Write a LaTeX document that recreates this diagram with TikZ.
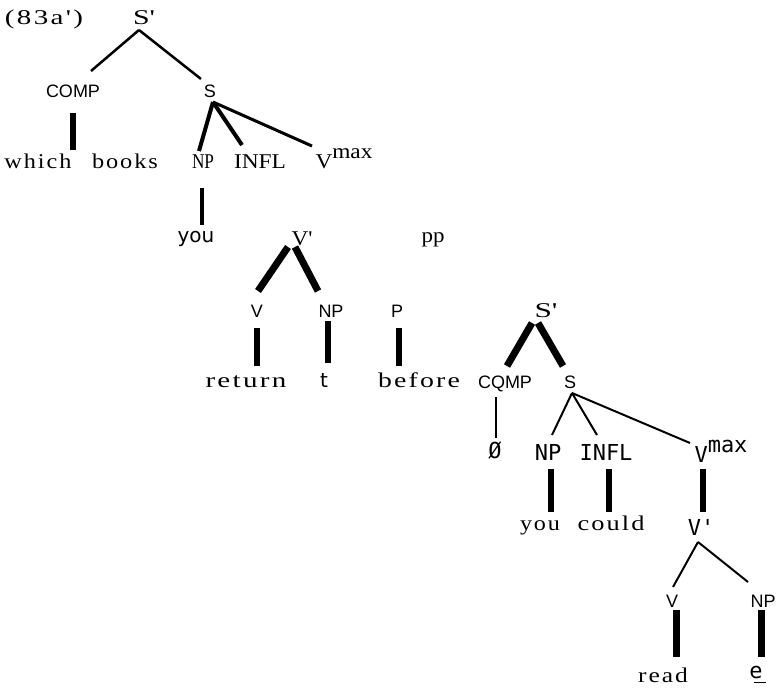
\documentclass[tikz,border=0pt]{standalone}
\usepackage{fontspec}
\usepackage{graphicx}
\setmainfont[Ligatures=TeXOff]{Liberation Serif}
\newfontfamily\spc[LetterSpace=8,Ligatures=TeXOff]{Liberation Serif}
\newfontfamily\ars{Liberation Sans}
\newfontfamily\dvs{DejaVu Sans}
\newfontfamily\mon[Ligatures=TeXOff]{DejaVu Sans Mono}
\newcommand\stw[2]{\resizebox{#1pt}{\height}{#2}}
\usetikzlibrary{calc}
\begin{document}
\begin{tikzpicture}[x=1pt,y=-1pt,
  lab/.style={anchor=base,inner sep=0pt,outer sep=0pt},
  ser/.style={lab,font=\fontsize{21}{25}\rmfamily},
  word/.style={lab,font=\fontsize{21}{25}\spc},
  sans/.style={lab,font=\fontsize{18}{22}\ars},
  dv/.style={lab,font=\fontsize{20}{24}\dvs},
  mono/.style={lab,font=\fontsize{22}{26}\mon},
  e2/.style={line width=2pt},
  e3/.style={line width=3pt},
  e4/.style={line width=4pt},
  e6/.style={line width=6pt},
  e7/.style={line width=7pt}]
\fill[white] (0,0) rectangle (777,689);
\useasboundingbox (0,0) rectangle (777,689);
% nodes
\node[word] (L) at (44,24) {\stw{78}{(83a')}};
\node[ser] (Sp1) at (144,24) {\stw{22}{S'}};
\node[sans] (COMP) at (73,97) {COMP};
\node[sans] (S1) at (210,97) {S};
\node[word] (which) at (38,168) {\stw{67}{which}};
\node[word] (books) at (125,168) {\stw{66}{books}};
\node[ser] (NP1) at (203,168) {\stw{22}{NP}};
\node[ser] (INFL1) at (260,168) {\stw{52}{INFL}};
\node[ser] (Vmax1) at (344,168) {\stw{57}{V\raisebox{10pt}{max}}};
\node[dv] (you1) at (196,242) {you};
\node[ser] (Vb1) at (302,245) {\stw{21}{V'}};
\node[ser] (PP) at (433,242) {\stw{23}{pp}};
\node[sans] (V2) at (257,317) {V};
\node[sans] (NP2) at (331,317) {NP};
\node[sans] (P) at (397,317) {P};
\node[ser] (Sp2) at (546,317) {\stw{23}{S'}};
\node[word] (return) at (246,387) {\stw{81}{return}};
\node[dv] (t) at (324,387) {t};
\node[word] (before) at (419,387) {\stw{82}{before}};
\node[sans] (CQMP) at (505,388) {CQMP};
\node[sans] (S2) at (570,388) {S};
\node[mono] (zero) at (495,458) {Ø};
\node[mono] (NP3) at (548,460) {NP};
\node[mono] (INFL2) at (606,460) {INFL};
\node[mono] (Vmax2) at (721,462) {V\raisebox{10pt}{max}};
\node[word] (you2) at (540,530) {\stw{40}{you}};
\node[word] (could) at (611,530) {\stw{67}{could}};
\node[mono] (Vb3) at (701,535) {V'};
\node[sans] (V3) at (672,607) {V};
\node[sans] (NP4) at (763,607) {NP};
\node[word] (read) at (663,682) {\stw{50}{read}};
\node[mono] (e) at (756,678) {e\makebox[0pt][r]{\rule[-5pt]{12pt}{1.2pt}\hspace{-3pt}}};
% connectors
\draw[line width=2.5pt] ($(Sp1.base)+(-5,6)$) -- ($(COMP.base)+(18,-26)$);
\draw[line width=2.5pt] ($(Sp1.base)+(-5,6)$) -- ($(S1.base)+(-9,-18)$);
\draw[e6] ($(COMP.base)+(0,16)$) -- ($(which.base)+(35,-18)$);
\draw[e4] ($(S1.base)+(3,5)$) -- ($(NP1.base)+(-4,-17)$);
\draw[e4] ($(S1.base)+(3,5)$) -- ($(INFL1.base)+(-18,-23)$);
\draw[e3] ($(S1.base)+(3,5)$) -- ($(Vmax1.base)+(-32,-22)$);
\draw[line width=4.5pt] ($(NP1.base)+(-1,20)$) -- ($(you1.base)+(6,-17)$);
\draw[e7] ($(Vb1.base)+(-14,2)$) -- ($(V2.base)+(1,-26)$);
\draw[e7] ($(Vb1.base)+(-7,2)$) -- ($(NP2.base)+(-13,-26)$);
\draw[e6] ($(V2.base)+(0,11)$) -- ($(return.base)+(11,-21)$);
\draw[e6] ($(NP2.base)+(-3,4)$) -- ($(t.base)+(4,-24)$);
\draw[e6] ($(P.base)+(2,11)$) -- ($(before.base)+(-20,-21)$);
\draw[e7] ($(Sp2.base)+(-14,6)$) -- ($(CQMP.base)+(2,-22)$);
\draw[e7] ($(Sp2.base)+(-8,6)$) -- ($(S2.base)+(-7,-22)$);
\draw[e2] ($(CQMP.base)+(-9,9)$) -- ($(zero.base)+(1,-20)$);
\draw[e2] ($(S2.base)+(2,5)$) -- ($(NP3.base)+(4,-25)$);
\draw[e2] ($(S2.base)+(2,5)$) -- ($(INFL2.base)+(-9,-25)$);
\draw[e2] ($(S2.base)+(2,5)$) -- ($(Vmax2.base)+(-31,-19)$);
\draw[e6] ($(NP3.base)+(3,9)$) -- ($(you2.base)+(11,-18)$);
\draw[e6] ($(INFL2.base)+(3,9)$) -- ($(could.base)+(-2,-18)$);
\draw[e6] ($(Vmax2.base)+(-18,7)$) -- ($(Vb3.base)+(2,-23)$);
\draw[e2] ($(Vb3.base)+(-3,7)$) -- ($(V3.base)+(1,-20)$);
\draw[e2] ($(Vb3.base)+(-3,7)$) -- ($(NP4.base)+(-15,-25)$);
\draw[e7] ($(V3.base)+(4,3)$) -- ($(read.base)+(13,-25)$);
\draw[e7] ($(NP4.base)+(-2,3)$) -- ($(e.base)+(5,-21)$);
\end{tikzpicture}
\end{document}
